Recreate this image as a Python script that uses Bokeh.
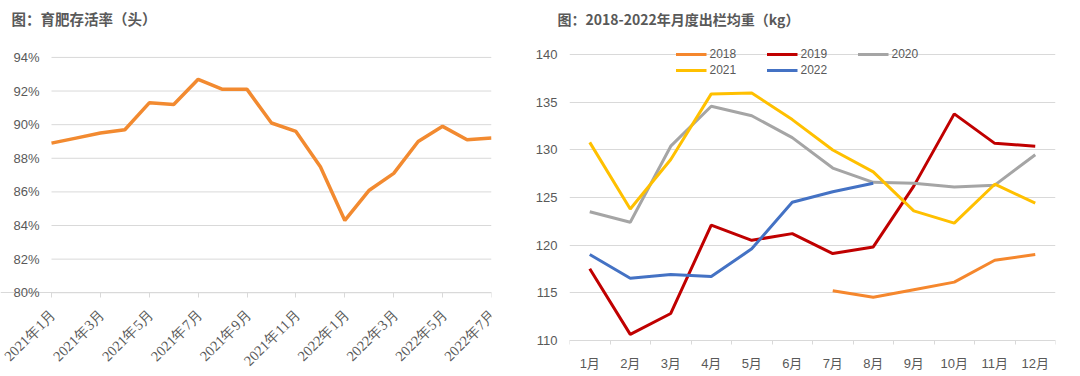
import math
from bokeh.plotting import figure
from bokeh.models import (FixedTicker, Legend, LegendItem, Range1d,
                          PrintfTickFormatter, LabelSet, ColumnDataSource)
from bokeh.layouts import row
from bokeh.embed import file_html
from bokeh.resources import INLINE

NaN = float("nan")

# ---------------- data ----------------
survival_months = ["2021年1月", "2021年2月", "2021年3月", "2021年4月", "2021年5月",
                   "2021年6月", "2021年7月", "2021年8月", "2021年9月", "2021年10月",
                   "2021年11月", "2021年12月", "2022年1月", "2022年2月", "2022年3月",
                   "2022年4月", "2022年5月", "2022年6月", "2022年7月"]
survival_rate = [88.9, 89.2, 89.5, 89.7, 91.3, 91.2, 92.7, 92.1, 92.1, 90.1,
                 89.6, 87.5, 84.3, 86.1, 87.1, 89.0, 89.9, 89.1, 89.2]
survival_yticks = [80, 82, 84, 86, 88, 90, 92, 94]

weight_months = ["1月", "2月", "3月", "4月", "5月", "6月",
                 "7月", "8月", "9月", "10月", "11月", "12月"]
weight_2018 = [NaN, NaN, NaN, NaN, NaN, NaN, 115.2, 114.5, 115.3, 116.1, 118.4, 119.0]
weight_2019 = [117.5, 110.6, 112.8, 122.1, 120.5, 121.2, 119.1, 119.8, 126.2, 133.8, 130.7, 130.4]
weight_2020 = [123.5, 122.4, 130.4, 134.6, 133.6, 131.3, 128.1, 126.6, 126.5, 126.1, 126.3, 129.5]
weight_2021 = [130.8, 123.8, 129.0, 135.9, 136.0, 133.2, 130.0, 127.7, 123.6, 122.3, 126.4, 124.4]
weight_2022 = [119.0, 116.5, 116.9, 116.7, 119.6, 124.5, 125.6, 126.5]
weight_yticks = [110, 115, 120, 125, 130, 135, 140]

series = [("2018", weight_2018, "#F5872D"),
          ("2019", weight_2019, "#C00000"),
          ("2020", weight_2020, "#A5A5A5"),
          ("2021", weight_2021, "#FFC000"),
          ("2022", weight_2022, "#4472C4")]

FONT = "'Liberation Sans', 'Noto Sans CJK SC', sans-serif"
TITLE_FONT = "'Noto Sans CJK SC', sans-serif"
GRAY = "#595959"
GRID = "#D9D9D9"

# layout constants (pixels)
H = 376
FRAME_TOP = 32


def extended_range(v_lo, px_lo, v_hi, px_hi, lo_edge, hi_edge):
    """linear range so that v_lo sits at pixel px_lo and v_hi at px_hi,
    for a frame whose edges are at pixels lo_edge (v_lo side) and hi_edge"""
    k = (v_hi - v_lo) / (px_hi - px_lo)
    return Range1d(v_lo + (lo_edge - px_lo) * k, v_hi + (hi_edge - px_hi) * k)


def style_common(p, title_offset, title_size):
    p.outline_line_color = None
    p.background_fill_color = "white"
    p.border_fill_color = "white"
    p.xgrid.visible = False
    p.ygrid.grid_line_color = GRID
    p.ygrid.grid_line_width = 1
    for ax in (p.xaxis[0], p.yaxis[0]):
        ax.major_label_text_font = FONT
        ax.major_label_text_font_size = "13px"
        ax.major_label_text_color = GRAY
        ax.minor_tick_line_color = None
    ya = p.yaxis[0]
    ya.axis_line_color = None
    ya.major_tick_line_color = None
    ya.major_tick_out = 0
    ya.major_tick_in = 0
    ya.major_label_standoff = 12
    xa = p.xaxis[0]
    xa.axis_line_color = GRID
    xa.axis_line_width = 1
    t = p.title
    t.align = "left"
    t.offset = title_offset
    t.text_font = TITLE_FONT
    t.text_font_size = title_size
    t.text_font_style = "bold"
    t.text_color = GRAY


# ---------------- left chart ----------------
# frame spans the whole left edge so the first rotated label is not clipped;
# the y axis is pinned at the first month
W1 = 532
p1 = figure(width=W1, height=H, output_backend="svg", toolbar_location=None,
            title="图：育肥存活率（头）",
            x_range=extended_range(0, 51, len(survival_months) - 1, 491, 0, 491),
            y_range=extended_range(80, 292, 94, 56, H, FRAME_TOP),
            min_border_left=0, min_border_right=W1 - 491, min_border_top=FRAME_TOP,
            min_border_bottom=0)
style_common(p1, 11, "14.5px")
p1.ygrid.visible = False
idx = list(range(len(survival_months)))
n_ticks = len(survival_yticks)
p1.segment(x0=[idx[0]] * n_ticks, x1=[idx[-1]] * n_ticks,
           y0=survival_yticks, y1=survival_yticks, line_color=GRID, line_width=1)
p1.line(idx, survival_rate, line_color="#F28A30", line_width=3.5)
xa = p1.xaxis[0]
xa.fixed_location = survival_yticks[0]
tick_idx = idx[::2]
xa.ticker = FixedTicker(ticks=tick_idx)
xa.major_label_text_color = None
xa.major_tick_line_color = GRID
xa.major_tick_out = 5
xa.major_tick_in = 0
ya = p1.yaxis[0]
ya.fixed_location = idx[0]
ya.ticker = FixedTicker(ticks=survival_yticks)
ya.formatter = PrintfTickFormatter(format="%d%%")

label_src = ColumnDataSource(dict(x=tick_idx,
                                  y=[survival_yticks[0]] * len(tick_idx),
                                  text=[survival_months[i] for i in tick_idx]))
p1.add_layout(LabelSet(x="x", y="y", text="text", source=label_src,
                       angle=math.pi / 4, x_offset=2, y_offset=-19,
                       text_align="right", text_baseline="middle",
                       text_font=FONT, text_font_size="14.5px", text_color=GRAY))

# ---------------- right chart ----------------
p2 = figure(width=548, height=H, output_backend="svg", toolbar_location=None,
            title="图：2018-2022年月度出栏均重（kg）",
            x_range=Range1d(0.5, len(weight_months) + 0.5),
            y_range=extended_range(110, 339.5, 140, 53.5, H, FRAME_TOP),
            min_border_left=37, min_border_right=25, min_border_top=FRAME_TOP,
            min_border_bottom=0)
style_common(p2, -12, "14px")
mx = list(range(1, len(weight_months) + 1))
items = []
for name, vals, color in series:
    r = p2.line(mx[:len(vals)], vals, line_color=color, line_width=3)
    items.append(LegendItem(label=name, renderers=[r]))
xa2 = p2.xaxis[0]
xa2.fixed_location = weight_yticks[0]
xa2.ticker = FixedTicker(ticks=mx, minor_ticks=[m - 0.5 for m in mx] + [mx[-1] + 0.5])
xa2.major_label_overrides = {m: weight_months[m - 1] for m in mx}
xa2.major_tick_line_color = None
xa2.major_tick_out = 0
xa2.major_tick_in = 0
xa2.minor_tick_line_color = GRID
xa2.minor_tick_out = 4
xa2.minor_tick_in = 0
xa2.major_label_standoff = 12
ya2 = p2.yaxis[0]
ya2.ticker = FixedTicker(ticks=weight_yticks)

legend = Legend(items=items, orientation="horizontal", ncols=3,
                location="top_center", padding=0, margin=13, spacing=0,
                border_line_color=None, background_fill_alpha=0,
                glyph_width=31, glyph_height=16, label_height=16,
                label_width=57, label_standoff=3,
                label_text_font=FONT, label_text_font_size="12px",
                label_text_color=GRAY)
p2.add_layout(legend)

layout = row(p1, p2, spacing=0)
open("out.html", "w").write(file_html(layout, INLINE))
